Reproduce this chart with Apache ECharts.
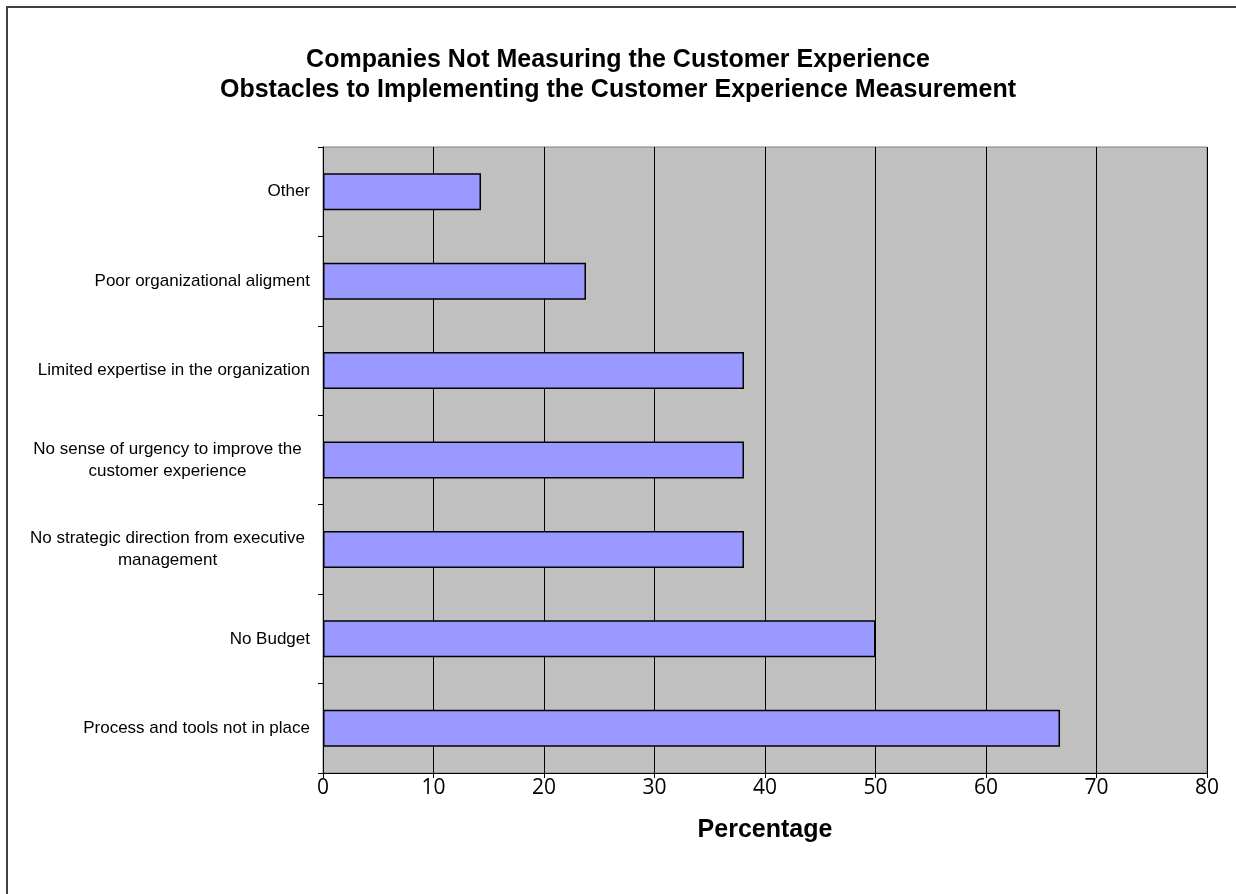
<!DOCTYPE html>
<html>
<head>
<meta charset="utf-8">
<script src="https://cdn.jsdelivr.net/npm/echarts@6/dist/echarts.min.js"></script>
<style>
html,body{margin:0;padding:0;background:#fff;}
#c{width:1236px;height:894px;}
</style>
</head>
<body>
<div id="c"></div>
<script>
const categories = [
  "Process and tools not in place",
  "No Budget",
  "No strategic direction from executive\nmanagement",
  "No sense of urgency to improve the\ncustomer experience",
  "Limited expertise in the organization",
  "Poor organizational aligment",
  "Other"
];
const values = [66.7, 50, 38.1, 38.1, 38.1, 23.8, 14.3];
const xTicks = [0, 10, 20, 30, 40, 50, 60, 70, 80];
const titleLines = [
  "Companies Not Measuring the Customer Experience",
  "Obstacles to Implementing the Customer Experience Measurement"
];
const xName = "Percentage";

const chart = echarts.init(document.getElementById('c'), null, {renderer: 'canvas'});
chart.setOption({
  animation: false,
  backgroundColor: '#ffffff',
  title: {
    text: titleLines.join('\n'),
    left: 'center',
    top: 40,
    textStyle: {
      fontFamily: 'Liberation Sans, Arial, sans-serif',
      fontWeight: 'bold',
      fontSize: 25,
      lineHeight: 30,
      color: '#000'
    }
  },
  graphic: [{
    type: 'rect',
    shape: {x: 7, y: 7, width: 1300, height: 1000},
    style: {fill: 'none', stroke: '#404040', lineWidth: 2},
    silent: true
  }],
  grid: {
    left: 323, right: 29, top: 147, bottom: 121,
    show: true,
    backgroundColor: '#c0c0c0',
    borderColor: '#808080',
    borderWidth: 1
  },
  xAxis: {
    type: 'value',
    min: xTicks[0],
    max: xTicks[xTicks.length - 1],
    interval: 10,
    name: xName,
    nameLocation: 'middle',
    nameGap: 45,
    nameTextStyle: {
      fontFamily: 'Liberation Sans, Arial, sans-serif',
      fontWeight: 'bold', fontSize: 25, color: '#000'
    },
    axisLine: {show: true, lineStyle: {color: '#000', width: 1}},
    axisTick: {show: true, length: 5, lineStyle: {color: '#000'}},
    axisLabel: {
      margin: 5,
      fontFamily: 'Open Sans, Liberation Sans, sans-serif',
      fontSize: 21, color: '#000'
    },
    splitLine: {show: true, lineStyle: {color: '#000', width: 1}}
  },
  yAxis: {
    type: 'category',
    data: categories,
    axisLine: {show: true, lineStyle: {color: '#000', width: 1}},
    axisTick: {show: true, length: 5, lineStyle: {color: '#000'}, alignWithLabel: false},
    axisLabel: {
      margin: 13,
      color: '#000',
      fontFamily: 'Liberation Sans, Arial, sans-serif',
      fontSize: 17,
      lineHeight: 22,
      formatter: function (v) {
        if (v.indexOf('\n') >= 0) {
          return v.split('\n').map(function (s) { return '{c|' + s + '}'; }).join('\n');
        }
        return v;
      },
      rich: {
        c: {
          width: 285, align: 'center',
          fontFamily: 'Liberation Sans, Arial, sans-serif',
          fontSize: 17, lineHeight: 22, color: '#000'
        }
      }
    },
    splitLine: {show: false}
  },
  series: [{
    type: 'bar',
    data: values,
    barWidth: 37,
    itemStyle: {color: '#9999ff', borderColor: '#000', borderWidth: 1.5}
  }]
});
</script>
</body>
</html>
